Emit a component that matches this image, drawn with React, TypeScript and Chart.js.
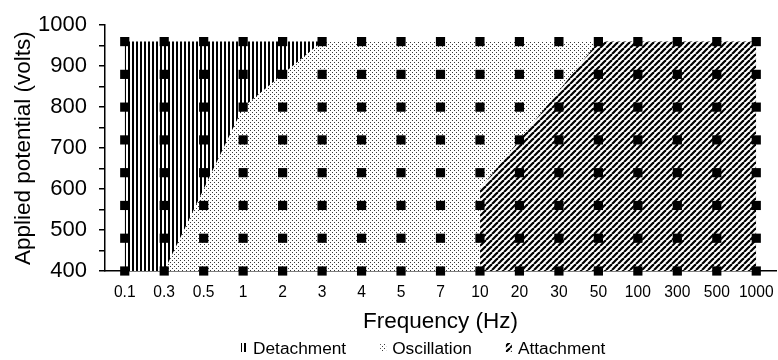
import { useEffect, useRef } from 'react';
import { Chart, registerables } from 'chart.js';

Chart.register(...registerables);

// Frequency categories (Hz) and the tested voltages (V)
const frequencies = ['0.1', '0.3', '0.5', '1', '2', '3', '4', '5', '7', '10', '20', '30', '50', '100', '300', '500', '1000'];
const voltages = [400, 480, 560, 640, 720, 800, 880, 960];

// Detachment: bounded below by this edge and above by the top voltage
const detachmentFreqs = ['0.1', '0.3', '0.5', '1', '2', '3'];
const detachmentLower = [400, 400, 600, 800, 880, 960];
const detachmentTop = 960;

// Oscillation: fills the band between the other two regimes
const oscillationFreqs = ['0.3', '50'];
const oscillationTop = [960, 960];
const oscillationBase = 400;

// Attachment: bounded above by this edge and below by the lowest voltage
const attachmentFreqs = ['10', '20', '30', '50', '100', '300', '500', '1000'];
const attachmentUpper = [600, 720, 840, 960, 960, 960, 960, 960];
const attachmentBase = 400;

const FONT = '"Liberation Sans", Arial, sans-serif';

function makeTile(size: number, draw: (g: CanvasRenderingContext2D) => void) {
  const c = document.createElement('canvas');
  c.width = size;
  c.height = size;
  const g = c.getContext('2d')!;
  g.fillStyle = '#fff';
  g.fillRect(0, 0, size, size);
  draw(g);
  return g.createPattern(c, 'repeat')!;
}

const patternLegend = {
  id: 'patternLegend',
  afterDraw(chart: any, _args: any, opts: any) {
    const { ctx } = chart;
    ctx.save();
    ctx.font = `${opts.fontSize}px ${FONT}`;
    ctx.textBaseline = 'alphabetic';
    ctx.textAlign = 'left';
    let x = opts.left;
    for (const ds of chart.data.datasets) {
      if (!ds.label) continue;
      ctx.fillStyle = ds.backgroundColor;
      ctx.fillRect(x, opts.baseline - 11, opts.boxWidth, 9);
      x += opts.boxWidth + opts.boxGap;
      ctx.fillStyle = '#000';
      ctx.fillText(ds.label, x, opts.baseline);
      x += ctx.measureText(ds.label).width + opts.itemGap;
    }
    ctx.restore();
  },
};

export default function App() {
  const canvasRef = useRef<HTMLCanvasElement | null>(null);

  useEffect(() => {
    const canvas = canvasRef.current;
    if (!canvas) return;

    const stripes = makeTile(4, (g) => {
      g.fillStyle = '#000';
      g.fillRect(0, 0, 2, 4);
    });
    const dots = makeTile(4, (g) => {
      g.fillStyle = '#3a3a3a';
      g.fillRect(0, 0, 1, 1);
      g.fillRect(2, 2, 1, 1);
    });
    const diagonal = makeTile(6, (g) => {
      g.strokeStyle = '#000';
      g.lineWidth = 2.2;
      for (const o of [-6, 0, 6]) {
        g.beginPath();
        g.moveTo(o, 6);
        g.lineTo(o + 6, 0);
        g.stroke();
      }
    });

    const hidden = 'rgba(0,0,0,0)';
    const points = frequencies.flatMap((f) => voltages.map((v) => ({ x: f, y: v })));

    const chart = new Chart(canvas, {
      type: 'line',
      data: {
        labels: frequencies,
        datasets: [
          {
            data: points,
            showLine: false,
            pointStyle: 'rect',
            pointRadius: 6.5,
            pointBorderWidth: 0,
            pointBackgroundColor: '#000',
            pointBorderColor: '#000',
            clip: false,
            order: 0,
          } as any,
          {
            label: 'Detachment',
            data: detachmentFreqs.map((f, i) => ({ x: f, y: detachmentLower[i] })),
            fill: { value: detachmentTop },
            backgroundColor: stripes,
            borderColor: hidden,
            borderWidth: 0,
            pointRadius: 0,
            tension: 0,
            order: 1,
          },
          {
            label: 'Oscillation',
            data: oscillationFreqs.map((f, i) => ({ x: f, y: oscillationTop[i] })),
            fill: { value: oscillationBase },
            backgroundColor: dots,
            borderColor: hidden,
            borderWidth: 0,
            pointRadius: 0,
            tension: 0,
            order: 2,
          },
          {
            label: 'Attachment',
            data: attachmentFreqs.map((f, i) => ({ x: f, y: attachmentUpper[i] })),
            fill: { value: attachmentBase },
            backgroundColor: diagonal,
            borderColor: hidden,
            borderWidth: 0,
            pointRadius: 0,
            tension: 0,
            order: 1,
          },
        ],
      },
      options: {
        animation: false,
        responsive: false,
        devicePixelRatio: 1,
        events: [],
        layout: { autoPadding: false, padding: { top: 18, right: 2, left: 0, bottom: 0 } },
        plugins: {
          legend: { display: false },
          tooltip: { enabled: false },
          patternLegend: { left: 241, baseline: 354, fontSize: 17.3, boxWidth: 6, boxGap: 6, itemGap: 34 },
        } as any,
        scales: {
          x: {
            type: 'category',
            offset: true,
            z: 1,
            grid: { display: false, drawTicks: false },
            border: { display: true, color: '#000', width: 1.5 },
            ticks: {
              color: '#000',
              font: { family: FONT, size: 15.6 },
              padding: 12,
              autoSkip: false,
              maxRotation: 0,
            },
            title: {
              display: true,
              text: 'Frequency (Hz)',
              color: '#000',
              font: { family: FONT, size: 22.5 },
              padding: { top: 0, bottom: 24.5 },
            },
            afterFit: (s: any) => {
              s.height = 89;
              s.paddingLeft = 0;
              s.paddingRight = 0;
            },
          },
          y: {
            min: 400,
            max: 1000,
            z: 1,
            grid: {
              display: true,
              drawOnChartArea: false,
              drawTicks: true,
              tickLength: 6,
              color: '#000',
              lineWidth: 1.5,
            },
            border: { display: true, color: '#000', width: 1.5 },
            ticks: {
              stepSize: 50,
              autoSkip: false,
              color: '#000',
              padding: 12,
              font: { family: FONT, size: 22 },
              callback: (v: any) => (Number(v) % 100 === 0 ? String(v) : ''),
            },
            title: {
              display: true,
              text: 'Applied potential (volts)',
              color: '#000',
              font: { family: FONT, size: 22.5 },
              padding: { top: 10.5, bottom: 0 },
            },
            afterFit: (s: any) => {
              s.width = 105;
            },
          },
        },
      },
      plugins: [patternLegend],
    });

    return () => chart.destroy();
  }, []);

  return (
    <div style={{ position: 'fixed', left: 0, top: 0, width: 778, height: 360, background: '#fff' }}>
      <canvas ref={canvasRef} width={778} height={360} style={{ display: 'block', width: 778, height: 360 }} />
    </div>
  );
}
